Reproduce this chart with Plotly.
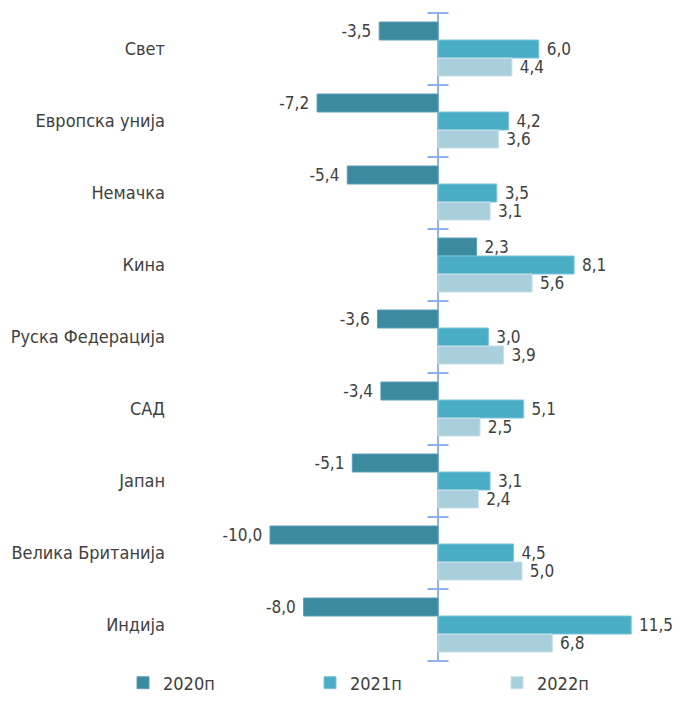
import plotly.graph_objects as go

categories = ["Свет", "Европска унија", "Немачка", "Кина", "Руска Федерација",
              "САД", "Јапан", "Велика Британија", "Индија"]
series_names = ["2020п", "2021п", "2022п"]
v2020 = [-3.5, -7.2, -5.4, 2.3, -3.6, -3.4, -5.1, -10.0, -8.0]
v2021 = [6.0, 4.2, 3.5, 8.1, 3.0, 5.1, 3.1, 4.5, 11.5]
v2022 = [4.4, 3.6, 3.1, 5.6, 3.9, 2.5, 2.4, 5.0, 6.8]

colors = ["#3b8aa0", "#4aadc6", "#a9cfdc"]
edge = ["#5aa0b4", "#7cc6da", "#c4e0ea"]
FONT = "Liberation Sans Narrow, DejaVu Sans Condensed, Arial Narrow, sans-serif"
TXT = "#404040"
AXC = "#8eb4e3"

W, H = 667, 704          # page body has an 8px margin
PX_PER_UNIT = 16.8
L, R, T, B = 162, 0, 5, 51
ZERO_PX = 268            # zero line offset from plot-area left edge

def fmt(v):
    s = f"{v:.1f}".replace(".", ",")
    return s + "\u00a0" if v < 0 else "\u00a0" + s

ypos = list(range(len(categories)))
fig = go.Figure()
legend_ids = ["legend", "legend2", "legend3"]
for name, vals, c, e, lg in zip(series_names, [v2020, v2021, v2022], colors, edge, legend_ids):
    fig.add_trace(go.Bar(
        name=name, x=vals, y=ypos, orientation="h",
        marker=dict(color=c, line=dict(color=e, width=1)),
        text=[fmt(v) for v in vals], textposition="outside",
        textfont=dict(family=FONT, size=17, color=TXT),
        constraintext="none", cliponaxis=False, legend=lg,
    ))

# axis tick marks at category boundaries on the zero line
bounds = [i - 0.5 for i in range(len(categories) + 1)]
fig.add_trace(go.Scatter(
    x=[0] * len(bounds), y=bounds, mode="markers",
    marker=dict(symbol="line-ew-open", size=15, color=AXC,
                line=dict(color=AXC, width=2)),
    showlegend=False, hoverinfo="skip", cliponaxis=False,
))

plot_w = W - L - R
xmin = -ZERO_PX / PX_PER_UNIT
xmax = (plot_w - ZERO_PX) / PX_PER_UNIT

legend_style = dict(orientation="h", xref="container", yref="container",
                    xanchor="left", yanchor="middle", y=1 - 675 / H,
                    font=dict(family=FONT, size=18, color=TXT),
                    bgcolor="rgba(0,0,0,0)")
legend_left = [115, 302, 489]

fig.update_layout(
    width=W, height=H,
    margin=dict(l=L, r=R, t=T, b=B, autoexpand=False),
    paper_bgcolor="white", plot_bgcolor="white",
    barmode="group", bargap=0.25, bargroupgap=0,
    font=dict(family=FONT, size=18, color=TXT),
    xaxis=dict(range=[xmin, xmax], showticklabels=False, showgrid=False,
               zeroline=True, zerolinecolor=AXC, zerolinewidth=2,
               automargin=False),
    yaxis=dict(range=[len(categories) - 0.5, -0.5], tickvals=ypos, ticktext=categories,
               showgrid=False, zeroline=False, ticks="", ticklabelstandoff=4,
               automargin=False,
               tickfont=dict(family=FONT, size=18, color=TXT)),
    legend=dict(legend_style, x=legend_left[0] / W),
    legend2=dict(legend_style, x=legend_left[1] / W),
    legend3=dict(legend_style, x=legend_left[2] / W),
    showlegend=True,
)

fig.write_html("out.html")
